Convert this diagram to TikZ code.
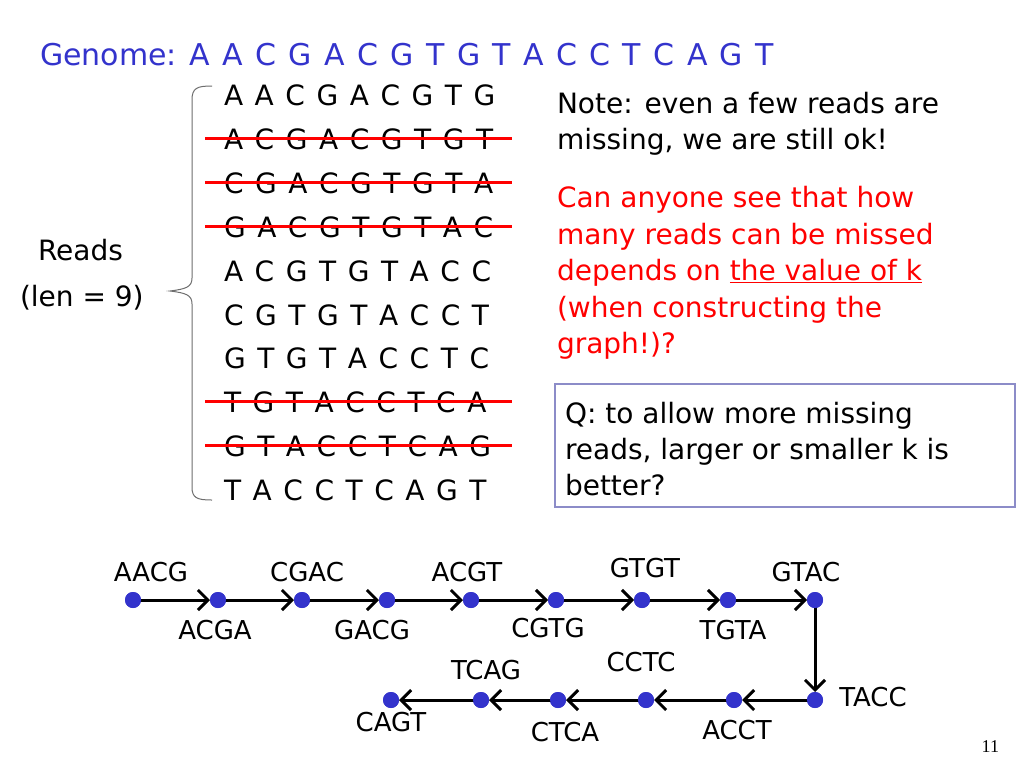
\documentclass[tikz,border=0pt]{standalone}
\usepackage{fontspec}
\setmainfont{DejaVu Sans}
\newfontfamily\seqfont{DejaVu Sans}[WordSpace=1.3]
\newfontfamily\pnfont{Liberation Serif}
\usetikzlibrary{arrows.meta}
\definecolor{gblue}{RGB}{51,51,204}
\definecolor{boxblue}{RGB}{140,140,200}
\definecolor{brgray}{RGB}{110,110,110}
\begin{document}
\begin{tikzpicture}[x=1pt,y=-1pt,
  every node/.style={inner sep=0pt, outer sep=0pt},
  txt/.style={anchor=base west, font=\fontsize{28}{34}\selectfont},
  readtxt/.style={anchor=base west, font=\seqfont\fontsize{28}{34}\selectfont},
  strike/.style={red, line width=3pt},
  dot/.style={circle, fill=gblue, minimum size=16pt},
  edge/.style={line width=3pt, -{Straight Barb[length=10pt,width=20pt,line width=3pt]}},
  lbl/.style={font=\fontsize{26}{30}\selectfont},
]
\useasboundingbox (0,0) rectangle (1024,768);
\fill[white] (0,0) rectangle (1024,768);

% Genome
\node[anchor=base west, text=gblue, font=\fontsize{30}{36}\selectfont] (genome) at (40,65)
  {Genome: {\seqfont A A C G A C G T G T A C C T C A G T}};

% Reads
\node[readtxt] (r1) at (224,105) {A A C G A C G T G};
\node[readtxt] (r2) at (224,149) {A C G A C G T G T};
\node[readtxt] (r3) at (224,193) {C G A C G T G T A};
\node[readtxt] (r4) at (224,237) {G A C G T G T A C};
\node[readtxt] (r5) at (224,281) {A C G T G T A C C};
\node[readtxt] (r6) at (224,325) {C G T G T A C C T};
\node[readtxt] (r7) at (224,368) {G T G T A C C T C};
\node[readtxt] (r8) at (224,412) {T G T A C C T C A};
\node[readtxt] (r9) at (224,456) {G T A C C T C A G};
\node[readtxt] (r10) at (224,500) {T A C C T C A G T};

\foreach \r in {r2,r3,r4,r8,r9}
  \draw[strike] (205,0 |- \r.center) -- (512,0 |- \r.center);

% brace
\draw[brgray, line width=1pt] (212,86) .. controls (197,86) and (192,88) .. (192,100)
  -- (192,278) .. controls (192,287) and (186,289) .. (170,291)
  .. controls (186,293) and (192,295) .. (192,304)
  -- (192,487) .. controls (192,498) and (197,500) .. (212,500);

\node[txt] (reads) at (38,260) {Reads};
\node[txt] (len) at (20,306) {(len = 9)};

% notes
\node[txt] (note1) at (557,113) {Note: even a few reads are};
\node[txt] (note2) at (557,149) {missing, we are still ok!};
\node[txt, text=red] (c1) at (557,207) {Can anyone see that how};
\node[txt, text=red] (c2) at (557,244) {many reads can be missed};
\node[txt, text=red] (c3) at (557,280) {depends on \underline{the value of k}};
\node[txt, text=red] (c4) at (557,317) {(when constructing the};
\node[txt, text=red] (c5) at (557,353) {graph!)?};

% question box
\node[draw=boxblue, line width=1.2pt, minimum width=460pt, minimum height=123pt, anchor=north west] (qbox) at (555,384) {};
\node[txt] (q1) at (565,423) {Q: to allow more missing};
\node[txt] (q2) at (565,459) {reads, larger or smaller k is};
\node[txt] (q3) at (565,495) {better?};

% graph nodes
\node[dot] (n1) at (133,600) {};
\node[dot] (n2) at (218,600) {};
\node[dot] (n3) at (302,600) {};
\node[dot] (n4) at (387,600) {};
\node[dot] (n5) at (471,600) {};
\node[dot] (n6) at (556,600) {};
\node[dot] (n7) at (642,600) {};
\node[dot] (n8) at (728,600) {};
\node[dot] (n9) at (815,600) {};
\node[dot] (m1) at (815,700) {};
\node[dot] (m2) at (734,700) {};
\node[dot] (m3) at (646,700) {};
\node[dot] (m4) at (558,700) {};
\node[dot] (m5) at (481,700) {};
\node[dot] (m6) at (391,700) {};

\draw[edge] (n1.center) -- (n2);
\draw[edge] (n2.center) -- (n3);
\draw[edge] (n3.center) -- (n4);
\draw[edge] (n4.center) -- (n5);
\draw[edge] (n5.center) -- (n6);
\draw[edge] (n6.center) -- (n7);
\draw[edge] (n7.center) -- (n8);
\draw[edge] (n8.center) -- (n9);
\draw[edge] (n9.center) -- (m1);
\draw[edge] (m1.center) -- (m2);
\draw[edge] (m2.center) -- (m3);
\draw[edge] (m3.center) -- (m4);
\draw[edge] (m4.center) -- (m5);
\draw[edge] (m5.center) -- (m6);
\foreach \n in {n1,n2,n3,n4,n5,n6,n7,n8,n9,m1,m2,m3,m4,m5,m6}
  \fill[gblue] (\n) circle (8pt);

% graph labels
\node[lbl] (l1) at (151,572) {AACG};
\node[lbl] (l2) at (215,630) {ACGA};
\node[lbl] (l3) at (307,572) {CGAC};
\node[lbl] (l4) at (372,630) {GACG};
\node[lbl] (l5) at (467,572) {ACGT};
\node[lbl] (l6) at (548,628) {CGTG};
\node[lbl] (l7) at (645,568) {GTGT};
\node[lbl] (l8) at (733,630) {TGTA};
\node[lbl] (l9) at (806,572) {GTAC};
\node[lbl] (l10) at (873,697) {TACC};
\node[lbl] (l11) at (737,730) {ACCT};
\node[lbl] (l12) at (641,662) {CCTC};
\node[lbl] (l13) at (565,732) {CTCA};
\node[lbl] (l14) at (486,670) {TCAG};
\node[lbl] (l15) at (391,722) {CAGT};

\node[anchor=base east, font=\pnfont\fontsize{18}{20}\selectfont] (pg) at (999,752) {11};
\end{tikzpicture}
\end{document}
